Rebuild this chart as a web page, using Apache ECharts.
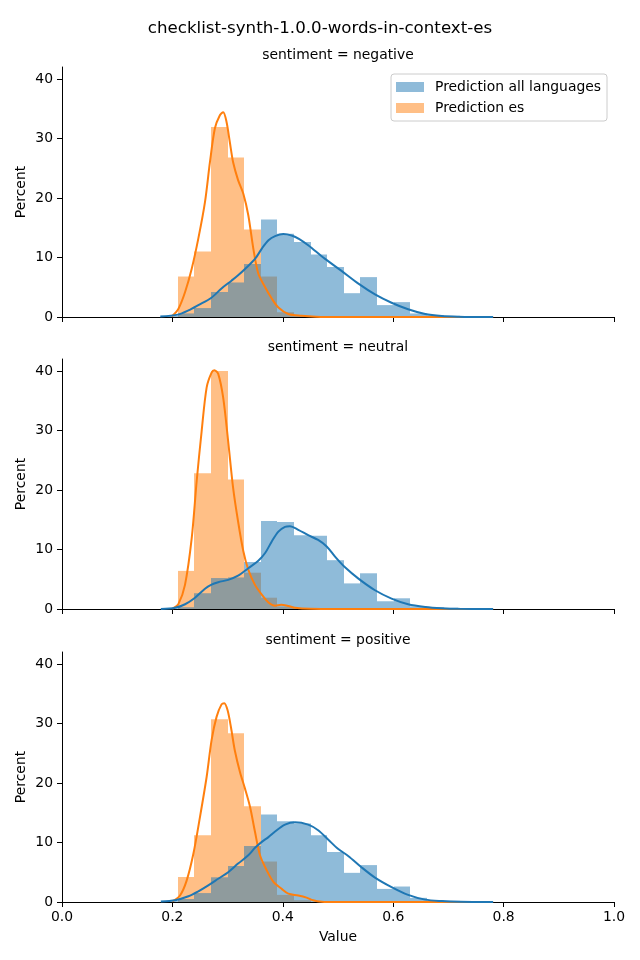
<!DOCTYPE html>
<html>
<head>
<meta charset="utf-8">
<script src="https://cdn.jsdelivr.net/npm/echarts@6/dist/echarts.min.js"></script>
<style>html,body{margin:0;padding:0;background:#fff}#chart{width:640px;height:960px}</style>
</head>
<body>
<div id="chart"></div>
<script>
// ---------- data ----------
const chartTitle = 'checklist-synth-1.0.0-words-in-context-es';
const panelTitles = ['sentiment = negative', 'sentiment = neutral', 'sentiment = positive'];
const seriesNames = ['Prediction all languages', 'Prediction es'];
const xTicks = [0, 0.2, 0.4, 0.6, 0.8, 1.0];
const yTicks = [0, 10, 20, 30, 40];

// shared histogram bin edges (20 bins)
const binEdges = [0.1795, 0.2096, 0.2397, 0.2698, 0.2999, 0.3300, 0.3601, 0.3902, 0.4203, 0.4504,
                  0.4805, 0.5106, 0.5407, 0.5708, 0.6009, 0.6310, 0.6611, 0.6912, 0.7213, 0.7514, 0.7815];

// histogram heights (percent)
const negAll = [0.2, 0.6, 1.5, 4.2, 5.8, 8.9, 16.4, 14.0, 12.6, 10.5, 8.4, 4.0, 6.7, 2.0, 2.5, 0.6, 0.3, 0.2, 0.1, 0.1];
const negEs  = [0, 6.8, 11.0, 31.9, 26.8, 14.7, 6.8, 0.8, 0.2, 0, 0, 0, 0, 0, 0, 0, 0, 0, 0, 0];
const neuAll = [0.1, 0.3, 2.65, 5.2, 5.3, 7.9, 14.8, 14.6, 12.4, 12.3, 8.2, 4.3, 6.0, 1.3, 1.8, 0.45, 0.3, 0.2, 0.1, 0.1];
const neuEs  = [0, 6.4, 22.8, 40.0, 21.75, 6.1, 1.9, 0.4, 0.1, 0, 0, 0, 0, 0, 0, 0, 0, 0, 0, 0];
const posAll = [0.15, 0.5, 1.5, 4.15, 6.05, 9.4, 14.7, 13.55, 13.2, 11.2, 8.4, 4.9, 6.2, 2.2, 2.6, 0.7, 0.3, 0.2, 0.15, 0.1];
const posEs  = [0, 4.2, 11.2, 30.7, 28.35, 16.1, 6.8, 1.2, 0.3, 0, 0, 0, 0, 0, 0, 0, 0, 0, 0, 0];

// KDE curves (x, y)
const negAllKdeX = [0.178, 0.21, 0.229, 0.247, 0.270, 0.289, 0.307, 0.319, 0.332, 0.350, 0.362, 0.374, 0.386, 0.401, 0.416, 0.430, 0.446, 0.476, 0.507, 0.537, 0.567, 0.597, 0.627, 0.658, 0.688, 0.718, 0.748, 0.781];
const negAllKdeY = [0.1, 0.4, 1.1, 2.0, 3.2, 4.8, 6.1, 7.0, 8.1, 9.8, 11.5, 12.9, 13.6, 13.95, 13.7, 13.1, 12.05, 9.8, 7.7, 5.6, 3.8, 2.4, 1.3, 0.5, 0.17, 0.05, 0.01, 0];
const negEsKdeX = [0.199, 0.211, 0.223, 0.235, 0.247, 0.259, 0.268, 0.277, 0.286, 0.292, 0.298, 0.304, 0.310, 0.319, 0.3285, 0.3375, 0.3466, 0.3556, 0.368, 0.380, 0.392, 0.410, 0.434, 0.46, 0.50, 0.60, 0.70, 0.781];
const negEsKdeY = [0.1, 1.4, 4.2, 8.1, 13.2, 19.3, 26.0, 31.7, 33.9, 34.4, 32.8, 29.4, 26.0, 23.0, 20.7, 17.1, 11.5, 7.3, 5.0, 3.1, 1.6, 0.5, 0.2, 0.05, 0, 0, 0, 0];
const neuAllKdeX = [0.179, 0.205, 0.223, 0.241, 0.259, 0.270, 0.283, 0.301, 0.319, 0.3375, 0.3556, 0.368, 0.380, 0.392, 0.404, 0.413, 0.428, 0.446, 0.464, 0.4795, 0.4946, 0.5127, 0.537, 0.567, 0.597, 0.627, 0.658, 0.688, 0.718, 0.781];
const neuAllKdeY = [0, 0.2, 0.8, 1.9, 3.4, 4.05, 4.5, 4.9, 5.6, 6.85, 8.1, 9.4, 11.35, 13.0, 13.8, 13.9, 13.3, 12.4, 11.6, 10.5, 8.8, 7.0, 5.1, 3.15, 1.75, 0.8, 0.35, 0.13, 0.03, 0];
const neuEsKdeX = [0.200, 0.2107, 0.2228, 0.235, 0.244, 0.253, 0.262, 0.271, 0.276, 0.283, 0.292, 0.301, 0.310, 0.319, 0.3285, 0.3375, 0.3496, 0.362, 0.374, 0.386, 0.397, 0.410, 0.422, 0.45, 0.5, 0.6, 0.7, 0.781];
const neuEsKdeY = [0.07, 0.8, 4.05, 11.9, 21.5, 29.9, 37.2, 39.7, 40.1, 39.5, 35.5, 28.2, 20.35, 14.7, 9.7, 6.6, 4.05, 2.4, 1.1, 0.56, 0.7, 0.5, 0.2, 0.03, 0, 0, 0, 0];
const posAllKdeX = [0.179, 0.205, 0.229, 0.247, 0.265, 0.283, 0.301, 0.319, 0.3375, 0.3496, 0.362, 0.374, 0.386, 0.404, 0.422, 0.446, 0.464, 0.482, 0.5005, 0.519, 0.543, 0.567, 0.597, 0.627, 0.658, 0.688, 0.72, 0.781];
const posAllKdeY = [0.1, 0.3, 0.96, 1.8, 2.8, 3.9, 5.0, 6.45, 7.85, 9.1, 10.1, 10.9, 11.85, 13.0, 13.4, 13.0, 12.05, 10.5, 8.9, 7.7, 5.8, 4.1, 2.5, 1.2, 0.4, 0.15, 0.03, 0];
const posEsKdeX = [0.200, 0.2138, 0.2258, 0.238, 0.250, 0.262, 0.271, 0.280, 0.289, 0.294, 0.300, 0.306, 0.313, 0.3225, 0.3315, 0.3406, 0.3496, 0.3587, 0.371, 0.383, 0.398, 0.410, 0.428, 0.443, 0.455, 0.47, 0.5, 0.6, 0.7, 0.781];
const posEsKdeY = [0.1, 1.1, 3.6, 8.1, 14.3, 21.0, 27.2, 31.1, 33.2, 33.4, 32.2, 29.4, 25.5, 21.8, 19.05, 16.0, 11.8, 7.85, 5.3, 3.4, 2.2, 1.4, 1.1, 0.74, 0.28, 0.05, 0, 0, 0, 0];

// ---------- build chart ----------
const FONT = 'DejaVu Sans';
const BLUE = '#1f77b4', ORANGE = '#ff7f0e';
const gridTops = [67, 359, 652];
const GRID_LEFT = 62, GRID_W = 552, GRID_H = 250;

const panels = [
  {all: negAll, es: negEs, allK: [negAllKdeX, negAllKdeY], esK: [negEsKdeX, negEsKdeY]},
  {all: neuAll, es: neuEs, allK: [neuAllKdeX, neuAllKdeY], esK: [neuEsKdeX, neuEsKdeY]},
  {all: posAll, es: posEs, allK: [posAllKdeX, posAllKdeY], esK: [posEsKdeX, posEsKdeY]}
];

function histData(h) {
  return h.map((v, i) => [binEdges[i], binEdges[i + 1], v]);
}
function kdeData(k) {
  return k[0].map((x, i) => [x, k[1][i]]);
}
function histRender(color) {
  return function (params, api) {
    const p0 = api.coord([api.value(0), api.value(2)]);
    const p1 = api.coord([api.value(1), 0]);
    const x0 = Math.round(p0[0]), x1 = Math.round(p1[0]);
    return {
      type: 'rect',
      shape: {x: x0, y: p0[1], width: x1 - x0, height: p1[1] - p0[1]},
      style: {fill: color, opacity: 0.5}
    };
  };
}

const grid = [], xAxis = [], yAxis = [], series = [];
const title = [{
  text: chartTitle, left: 320, top: 20, textAlign: 'center', padding: 0,
  textStyle: {fontFamily: FONT, fontSize: 16.67, fontWeight: 'normal', color: '#000'}
}];

panels.forEach((p, i) => {
  grid.push({left: GRID_LEFT, top: gridTops[i], width: GRID_W, height: GRID_H, containLabel: false});
  title.push({
    text: panelTitles[i], left: GRID_LEFT + GRID_W / 2, top: gridTops[i] - 19, textAlign: 'center', padding: 0,
    textStyle: {fontFamily: FONT, fontSize: 13.9, fontWeight: 'normal', color: '#000'}
  });
  xAxis.push({
    type: 'value', gridIndex: i, min: 0, max: 1, interval: 0.2,
    axisLine: {show: true, onZero: false, lineStyle: {color: '#000', width: 1}},
    axisTick: {show: true, length: 5, lineStyle: {color: '#000', width: 1}, customValues: xTicks},
    axisLabel: {show: i === 2, customValues: xTicks, formatter: v => v.toFixed(1), color: '#000', fontFamily: FONT, fontSize: 13.9, margin: 8},
    splitLine: {show: false},
    name: i === 2 ? 'Value' : '', nameLocation: 'middle', nameGap: 28, nameMoveOverlap: false,
    nameTextStyle: {fontFamily: FONT, fontSize: 13.9, color: '#000'}
  });
  yAxis.push({
    type: 'value', gridIndex: i, min: 0, max: 42, interval: 10,
    axisLine: {show: true, lineStyle: {color: '#000', width: 1}},
    axisTick: {show: true, length: 5, lineStyle: {color: '#000', width: 1}, customValues: yTicks},
    axisLabel: {customValues: yTicks, color: '#000', fontFamily: FONT, fontSize: 13.9, margin: 9},
    splitLine: {show: false},
    name: 'Percent', nameLocation: 'middle', nameGap: 34, nameRotate: 90, nameMoveOverlap: false,
    nameTextStyle: {fontFamily: FONT, fontSize: 13.9, color: '#000'}
  });
  series.push({
    type: 'custom', name: seriesNames[1], xAxisIndex: i, yAxisIndex: i,
    renderItem: histRender(ORANGE), data: histData(p.es), itemStyle: {color: '#ffbf86'},
    encode: {x: [0, 1], y: 2}, silent: true
  });
  series.push({
    type: 'custom', name: seriesNames[0], xAxisIndex: i, yAxisIndex: i,
    renderItem: histRender(BLUE), data: histData(p.all), itemStyle: {color: '#8fbbd9'},
    encode: {x: [0, 1], y: 2}, silent: true
  });
  series.push({
    type: 'line', name: 'kde-es-' + i, xAxisIndex: i, yAxisIndex: i, data: kdeData(p.esK),
    showSymbol: false, smooth: 0.3, lineStyle: {color: ORANGE, width: 2}, itemStyle: {color: ORANGE}, silent: true, z: 3
  });
  series.push({
    type: 'line', name: 'kde-all-' + i, xAxisIndex: i, yAxisIndex: i, data: kdeData(p.allK),
    showSymbol: false, smooth: 0.3, lineStyle: {color: BLUE, width: 2}, itemStyle: {color: BLUE}, silent: true, z: 3
  });
});

const option = {
  animation: false,
  backgroundColor: '#fff',
  textStyle: {fontFamily: FONT},
  title: title,
  legend: {
    orient: 'vertical', right: 33, top: 74,
    data: [
      {name: seriesNames[0], icon: 'rect', itemStyle: {color: '#8fbbd9', opacity: 1}},
      {name: seriesNames[1], icon: 'rect', itemStyle: {color: '#ffbf86', opacity: 1}}
    ],
    itemWidth: 28, itemHeight: 10, itemGap: 7,
    padding: [6, 6, 6, 5],
    borderColor: '#cccccc', borderWidth: 1, borderRadius: 3,
    backgroundColor: 'rgba(255,255,255,0.8)',
    textStyle: {fontFamily: FONT, fontSize: 13.9, color: '#000', lineHeight: 14, padding: [0, 0, 0, 6]},
    selectedMode: false
  },
  grid: grid, xAxis: xAxis, yAxis: yAxis, series: series
};

const chart = echarts.init(document.getElementById('chart'), null, {renderer: 'canvas'});
chart.setOption(option);
</script>
</body>
</html>
